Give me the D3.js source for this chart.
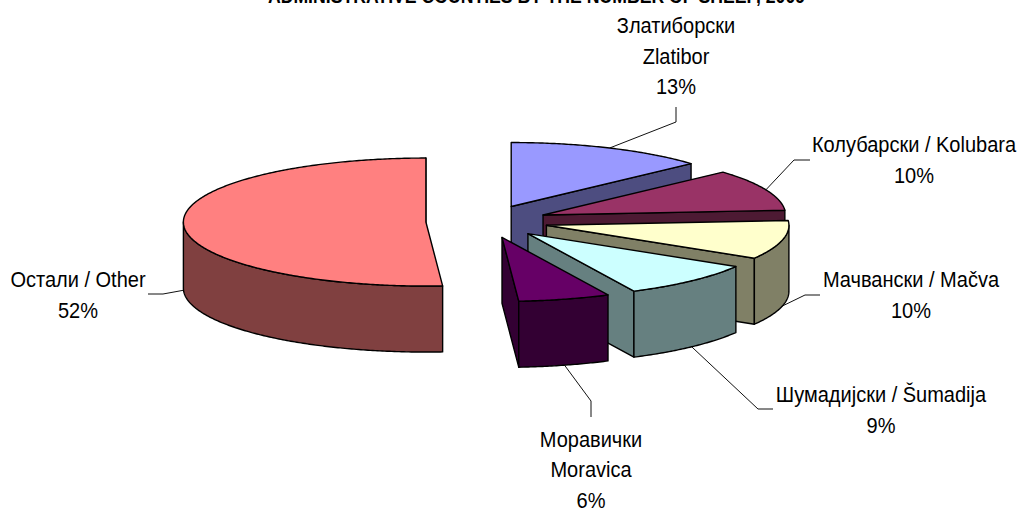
<!DOCTYPE html>
<html>
<head>
<meta charset="utf-8">
<script src="https://cdn.jsdelivr.net/npm/d3@7/dist/d3.min.js"></script>
<style>
html,body{margin:0;padding:0;background:#fff;overflow:hidden}
text{font-family:"Liberation Sans",Arial,sans-serif;fill:#000}
</style>
</head>
<body>
<svg id="chart" width="1019" height="508"></svg>
<script>
const titleText = "ADMINISTRATIVE COUNTIES BY THE NUMBER OF SHEEP, 2009";
const categories = ["Zlatibor","Kolubara","Mačva","Šumadija","Moravica","Other"];
const shares = [13.3, 10.5, 9.8, 9.2, 6.1, 51.1];
const percentLabels = ["13%","10%","10%","9%","6%","52%"];
const labelLines = [
  ["Златиборски","Zlatibor"],
  ["Колубарски / Kolubara"],
  ["Мачвански / Mačva"],
  ["Шумадијски / Šumadija"],
  ["Моравички","Moravica"],
  ["Остали / Other"]
];
const topColors = ["#9999FF","#993366","#FFFFCC","#CCFFFF","#660066","#FF8080"];
const sideColors = ["#4D4D80","#4D1A33","#808066","#668080","#330033","#804040"];

// layout
const cx = 486, cy = 221.5, rx = 242.5, ry = 64, depth = 66;
const explode = [0.256,0.256,0.256,0.256,0.256,0.248];
const labelCenterX = [676, 914, 911, 881, 591, 78];
const labelFirstBaseline = [33, 152, 287, 402, 446.5, 287];
const lineStep = 30.7;
const textSqueeze = 0.91;
const leaderElbows = [[676,122],[794,160],[805,295],[758,409],[591,401],[163,294]];
const leaderEnds = [[676,107],[810,160],[820,295],[773,409],[591,417],[148,294]];

const x = d3.scaleLinear().domain([-1,1]).range([cx-rx,cx+rx]);
const y = d3.scaleLinear().domain([-1,1]).range([cy-ry,cy+ry]);
const line = d3.line();
const svg = d3.select("#chart");

const slices = d3.pie().sort(null).value(d=>d)(shares).map((a,i)=>{
  const mid = (a.startAngle+a.endAngle)/2;
  return {i, a0:a.startAngle, a1:a.endAngle, mid, ex:explode[i]*Math.sin(mid), ey:-explode[i]*Math.cos(mid)};
});
const pt = (s,th,r=1,dz=0)=>[x(s.ex+r*Math.sin(th)), y(s.ey-r*Math.cos(th))+dz];
const arcAngles = (a,b)=>{ const n=Math.max(2,Math.ceil((b-a)/0.01)); return d3.range(n+1).map(k=>a+(b-a)*k/n); };

function face(pts, fill){
  svg.append("path").attr("d",line(pts)+"Z").attr("fill",fill)
    .attr("stroke","#000").attr("stroke-width",1.4).attr("stroke-linejoin","round");
}

// leader lines sit under the slices
slices.forEach(s=>{
  const start = pt(s,s.mid,1,Math.cos(s.mid)<0?depth:0);
  svg.append("path").attr("d",line([start,leaderElbows[s.i],leaderEnds[s.i]]))
    .attr("fill","none").attr("stroke","#111").attr("stroke-width",1);
});

// Painter's order: the large back-left slice, then clockwise towards the viewer
[5,0,1,2,3,4].map(i=>slices[i]).forEach(s=>{
  const fillSide = sideColors[s.i], fillTop = topColors[s.i];
  const cut = th=>{
    const apex=pt(s,0,0), rim=pt(s,th);
    face([apex,rim,[rim[0],rim[1]+depth],[apex[0],apex[1]+depth]],fillSide);
  };
  if (Math.sin(s.a0)<0) cut(s.a0);
  if (Math.sin(s.a1)>0) cut(s.a1);
  const lo=Math.max(s.a0,Math.PI/2), hi=Math.min(s.a1,3*Math.PI/2);
  if (hi>lo){
    const ang=arcAngles(lo,hi);
    const upper=ang.map(t=>pt(s,t));
    const lower=ang.slice().reverse().map(t=>pt(s,t,1,depth));
    face(upper.concat(lower),fillSide);
  }
  face([pt(s,0,0)].concat(arcAngles(s.a0,s.a1).map(t=>pt(s,t))),fillTop);
});

// labels
slices.forEach(s=>{
  const lines = labelLines[s.i].concat([percentLabels[s.i]]);
  lines.forEach((t,k)=>{
    svg.append("text")
      .attr("transform",`translate(${labelCenterX[s.i]},${labelFirstBaseline[s.i]+k*lineStep}) scale(${textSqueeze},1)`)
      .attr("text-anchor","middle").attr("font-size",22).text(t);
  });
});

svg.append("text").attr("transform",`translate(536.5,3) scale(${textSqueeze},1)`).attr("text-anchor","middle")
  .attr("font-size",19.4).attr("font-weight","bold").text(titleText);
</script>
</body>
</html>
